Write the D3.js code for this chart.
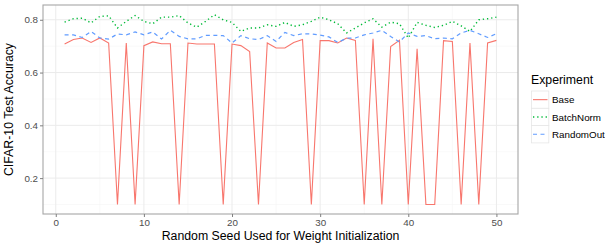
<!DOCTYPE html>
<html><head><meta charset="utf-8">
<script src="https://cdn.jsdelivr.net/npm/d3@7"></script>
<style>body{margin:0;background:#fff}svg{display:block;font-family:"Liberation Sans",Arial,sans-serif}</style>
</head><body><svg id="c" width="605" height="244"></svg>
<script>
const seeds = d3.range(1, 51);
const base = [0.708,0.725,0.731,0.714,0.731,0.712,0.1,0.712,0.1,0.702,
  0.716,0.709,0.709,0.1,0.712,0.708,0.708,0.708,0.1,0.708,
  0.702,0.68,0.1,0.712,0.693,0.693,0.714,0.725,0.1,0.721,
  0.721,0.712,0.731,0.722,0.1,0.728,0.1,0.699,0.722,0.1,
  0.69,0.1,0.1,0.721,0.718,0.1,0.712,0.1,0.712,0.722];
const batchNorm = [0.791,0.804,0.806,0.788,0.813,0.815,0.769,0.794,0.816,0.794,
  0.785,0.81,0.81,0.816,0.788,0.772,0.794,0.819,0.8,0.79,
  0.756,0.769,0.769,0.781,0.775,0.79,0.775,0.781,0.794,0.81,
  0.8,0.785,0.75,0.769,0.788,0.804,0.772,0.791,0.785,0.731,
  0.79,0.779,0.771,0.779,0.794,0.777,0.756,0.8,0.804,0.81];
const randomOut = [0.743,0.743,0.733,0.756,0.731,0.727,0.746,0.743,0.754,0.743,
  0.754,0.727,0.76,0.737,0.728,0.728,0.741,0.741,0.74,0.712,
  0.74,0.728,0.725,0.74,0.718,0.752,0.74,0.747,0.746,0.742,
  0.735,0.714,0.73,0.731,0.743,0.75,0.76,0.737,0.716,0.75,
  0.737,0.74,0.728,0.731,0.728,0.75,0.76,0.747,0.733,0.747];
const seriesNames = ["Base","BatchNorm","RandomOut"];
const colors = ["#F8766D","#00BA38","#619CFF"];
const dashes = [null,"1.3,2.9","4,3.5"];
const widths = [1.1,1.4,1.2];
const xTicks = [0,10,20,30,40,50];
const yTicks = [0.2,0.4,0.6,0.8];
const xMinor = [5,15,25,35,45];
const yMinor = [0.1,0.3,0.5,0.7];

const svg = d3.select("#c");
const L = 43, R = 518, T = 5, B = 214;
const x = d3.scaleLinear().domain([-1.45, 52.45]).range([L, R]);
const y = d3.scaleLinear().domain([0.064, 0.856]).range([B, T]);

const g = svg.append("g");
g.append("rect").attr("x",L).attr("y",T).attr("width",R-L).attr("height",B-T).attr("fill","#fff");
g.selectAll(".xm").data(xMinor).enter().append("line")
  .attr("x1",d=>x(d)).attr("x2",d=>x(d)).attr("y1",T).attr("y2",B).attr("stroke","#f5f5f5").attr("stroke-width",0.6);
g.selectAll(".ym").data(yMinor).enter().append("line")
  .attr("y1",d=>y(d)).attr("y2",d=>y(d)).attr("x1",L).attr("x2",R).attr("stroke","#f5f5f5").attr("stroke-width",0.6);
g.selectAll(".xg").data(xTicks).enter().append("line")
  .attr("x1",d=>x(d)).attr("x2",d=>x(d)).attr("y1",T).attr("y2",B).attr("stroke","#ebebeb").attr("stroke-width",1);
g.selectAll(".yg").data(yTicks).enter().append("line")
  .attr("y1",d=>y(d)).attr("y2",d=>y(d)).attr("x1",L).attr("x2",R).attr("stroke","#ebebeb").attr("stroke-width",1);

const data = [base, batchNorm, randomOut];
const line = d3.line().x((d,i)=>x(seeds[i])).y(d=>y(d));
data.forEach((s,k)=>{
  g.append("path").datum(s).attr("d",line).attr("fill","none")
    .attr("stroke",colors[k]).attr("stroke-width",widths[k])
    .attr("stroke-dasharray",dashes[k]);
});

g.append("rect").attr("x",L).attr("y",T).attr("width",R-L).attr("height",B-T)
  .attr("fill","none").attr("stroke","#a6a6a6").attr("stroke-width",1.1);

const xa = svg.append("g").attr("transform",`translate(0,${B})`)
  .call(d3.axisBottom(x).tickValues(xTicks).tickSize(3).tickPadding(2).tickFormat(d3.format("d")));
const ya = svg.append("g").attr("transform",`translate(${L},0)`)
  .call(d3.axisLeft(y).tickValues(yTicks).tickSize(3).tickPadding(2).tickFormat(d3.format(".1f")));
[xa,ya].forEach(a=>{
  a.select(".domain").remove();
  a.selectAll(".tick line").attr("stroke","#7f7f7f");
  a.selectAll(".tick text").attr("fill","#4d4d4d").style("font-size","9.8px").style("font-family","'Liberation Sans',Arial,sans-serif");
});

svg.append("text").attr("x",(L+R)/2).attr("y",240).attr("text-anchor","middle")
  .style("font-size","12.3px").attr("fill","#000").text("Random Seed Used for Weight Initialization");
svg.append("text").attr("transform",`translate(13,${(T+B)/2}) rotate(-90)`).attr("text-anchor","middle")
  .style("font-size","12.3px").attr("fill","#000").text("CIFAR-10 Test Accuracy");

const lg = svg.append("g");
lg.append("text").attr("x",531).attr("y",84).style("font-size","12.3px").text("Experiment");
seriesNames.forEach((n,k)=>{
  const yy = 91 + k*17.3;
  lg.append("rect").attr("x",531.5).attr("y",yy).attr("width",17.3).attr("height",17.3)
    .attr("fill","#fff").attr("stroke","#e6e6e6").attr("stroke-width",0.8);
  lg.append("line").attr("x1",533).attr("x2",547.5).attr("y1",yy+8.65).attr("y2",yy+8.65)
    .attr("stroke",colors[k]).attr("stroke-width",widths[k]).attr("stroke-dasharray",dashes[k]);
  lg.append("text").attr("x",552).attr("y",yy+12.3).style("font-size","9.8px").text(n);
});
</script></body></html>
